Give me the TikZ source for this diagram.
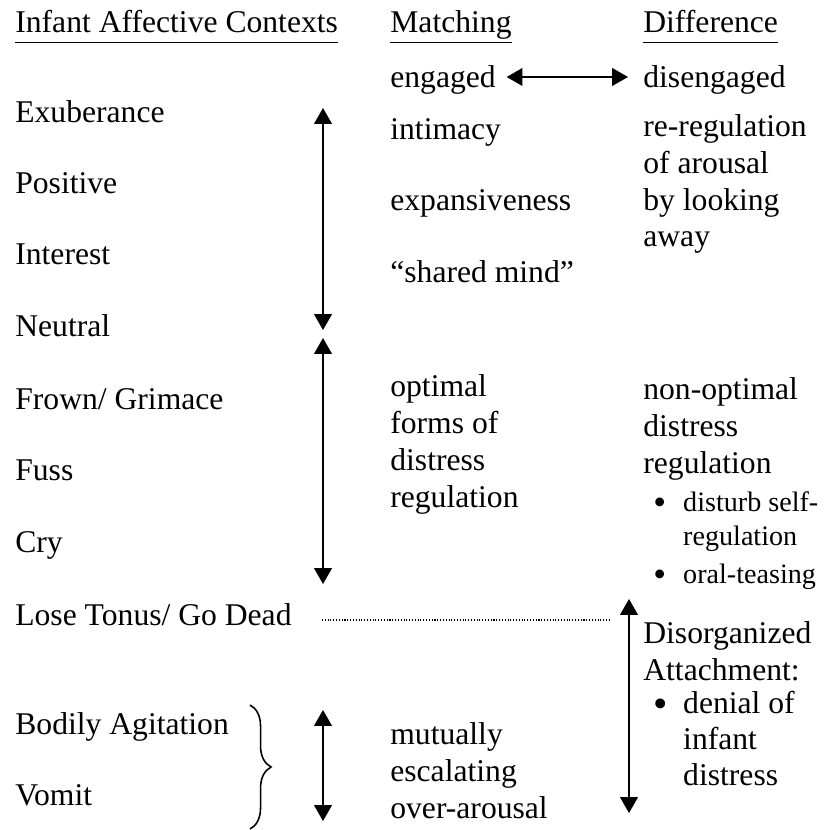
\documentclass[tikz,border=0pt]{standalone}
\usepackage{fontspec}
\usepackage{graphicx}
\setmainfont{Liberation Serif}
\usetikzlibrary{arrows.meta, decorations.pathreplacing}

\newcommand{\bigdot}{\makebox[17pt][l]{\raisebox{-0.13em}{\scalebox{1.3}{\textbullet}}}}

\tikzset{
  txt/.style={anchor=base west, inner sep=0pt, align=left, font=\fontsize{18}{21}\selectfont},
  bullet/.style={txt, font=\fontsize{16}{19.3}\selectfont},
  twoway/.style={line width=1.1pt, {Triangle[length=9pt,width=10pt]}-{Triangle[length=9pt,width=10pt]}},
}

\begin{document}
\begin{tikzpicture}[x=0.02cm, y=-0.02cm]
  \useasboundingbox (0,0) rectangle (823,830);

  % column headings
  \node[txt] (hctx) at (15,33) {\underline{Infant Affective Contexts\vphantom{g}}};
  \node[txt] (hmatch) at (390,33) {\underline{Matching}};
  \node[txt] (hdiff) at (643,33) {\underline{Difference\vphantom{g}}};

  \node[txt] (eng) at (390,88) {engaged};
  \node[txt] (diseng) at (643,88) {disengaged};
  \draw[twoway] ([xshift=6pt]eng.east |- 0,77) coordinate (e1) -- (628,77) coordinate (e2);

  % infant contexts
  \node[txt] (exub) at (15,123) {Exuberance};
  \node[txt] (pos) at (15,194) {Positive};
  \node[txt] (inter) at (15,265) {Interest};
  \node[txt] (neut) at (15,337) {Neutral};
  \node[txt] (frown) at (15,409) {Frown/ Grimace};
  \node[txt] (fuss) at (15,480) {Fuss};
  \node[txt] (cry) at (15,552) {Cry};
  \node[txt] (tonus) at (15,625) {Lose Tonus/ Go Dead};
  \node[txt] (agit) at (15,734) {Bodily Agitation};
  \node[txt] (vomit) at (15,805) {Vomit};

  % matching (multi-line nodes sit on their last line)
  \node[txt] (intim) at (390,140) {intimacy};
  \node[txt] (expan) at (390,211) {expansiveness};
  \node[txt] (shared) at (390,283) {``shared mind''};
  \node[txt] (optim) at (390,507) {optimal\\forms of\\distress\\regulation};
  \node[txt] (mutual) at (390,818) {mutually\\escalating\\over-arousal};

  % difference
  \node[txt] (rereg) at (643,247) {re-regulation\\of arousal\\by looking\\away};
  \node[txt] (nonopt) at (643,473) {non-optimal\\distress\\regulation};
  \node[bullet] (disturb) at (653,545) {\bigdot disturb self-\\\hspace{17pt}regulation};
  \node[bullet] (oral) at (653,583) {\bigdot oral-teasing};
  \node[txt] (disorg) at (643,680) {Disorganized\\Attachment:};
  \node[txt, font=\fontsize{18}{20.4}\selectfont] (denial) at (653,785) {\bigdot denial of\\\hspace{17pt}infant\\\hspace{17pt}distress};

  % vertical arrows
  \coordinate (a1) at (323,108);
  \coordinate (a2) at (323,330);
  \coordinate (a3) at (323,338);
  \coordinate (a4) at (323,584);
  \coordinate (a5) at (323,710);
  \coordinate (a6) at (323,821);
  \coordinate (a7) at (629,599);
  \coordinate (a8) at (629,813);
  \draw[twoway] (a1) -- (a2);
  \draw[twoway] (a3) -- (a4);
  \draw[twoway] (a5) -- (a6);
  \draw[twoway] (a7) -- (a8);

  % lose tonus line
  \coordinate (d1) at (322,620);
  \coordinate (d2) at (610,620);
  \draw[densely dotted, line width=0.6pt] (d1) -- (d2);

  % brace
  \coordinate (b1) at (250,705);
  \coordinate (b2) at (250,829);
  \draw[line width=0.9pt, decorate, decoration={brace, amplitude=12pt}] (b1) -- (b2);
\end{tikzpicture}
\end{document}
